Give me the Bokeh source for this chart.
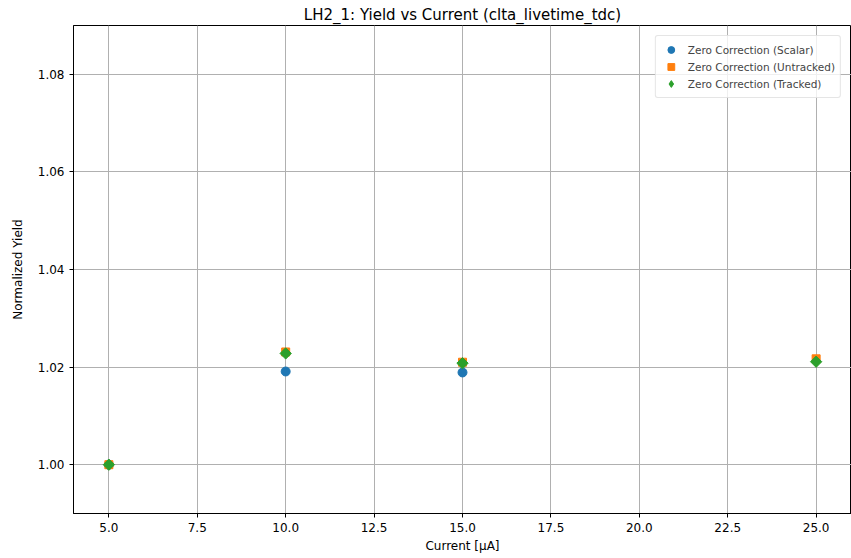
import math
from bokeh.plotting import figure
from bokeh.models import Range1d, FixedTicker, CustomJSTickFormatter, Legend, LegendItem
from bokeh.embed import file_html
from bokeh.resources import INLINE

current_scalar = [5, 10, 15]
yield_scalar = [1.0, 1.0191, 1.0189]
current_untracked = [5, 10, 15, 25]
yield_untracked = [1.0, 1.0231, 1.0210, 1.0217]
current_tracked = [5, 10, 15, 25]
yield_tracked = [1.0, 1.0228, 1.0208, 1.0211]
x_ticks = [5.0, 7.5, 10.0, 12.5, 15.0, 17.5, 20.0, 22.5, 25.0]
y_ticks = [1.00, 1.02, 1.04, 1.06, 1.08]

FONT = "DejaVu Sans"

p = figure(width=851, height=558, output_backend="svg", toolbar_location=None,
           x_range=Range1d(4.0, 26.0), y_range=Range1d(0.99, 1.09),
           title="LH2_1: Yield vs Current (clta_livetime_tdc)",
           min_border_left=73, min_border_right=0, min_border_top=25, min_border_bottom=45)

p.title.align = "center"
p.title.text_font = FONT
p.title.text_font_size = "15px"
p.title.text_font_style = "normal"
p.title.text_color = "#000000"
p.title.offset = 0
p.title.standoff = 4

p.outline_line_color = "#000000"
p.outline_line_width = 1
p.outline_line_alpha = 1

for ax in (p.xaxis[0], p.yaxis[0]):
    ax.axis_line_color = "#000000"
    ax.major_tick_line_color = "#000000"
    ax.major_tick_out = 4
    ax.major_tick_in = 0
    ax.minor_tick_line_color = None
    ax.major_label_text_font = FONT
    ax.major_label_text_font_size = "12px"
    ax.major_label_text_color = "#000000"
    ax.axis_label_text_font = FONT
    ax.axis_label_text_font_size = "12px"
    ax.axis_label_text_font_style = "normal"
    ax.axis_label_text_color = "#000000"

p.xaxis.ticker = FixedTicker(ticks=x_ticks)
p.yaxis.ticker = FixedTicker(ticks=y_ticks)
p.xaxis.formatter = CustomJSTickFormatter(code="return tick.toFixed(1);")
p.yaxis.formatter = CustomJSTickFormatter(code="return tick.toFixed(2);")
p.xaxis.axis_label = "Current [μA]"
p.yaxis.axis_label = "Normalized Yield"
p.xaxis.axis_label_standoff = 4
p.yaxis.axis_label_standoff = 10

p.xgrid.grid_line_color = "#b0b0b0"
p.ygrid.grid_line_color = "#b0b0b0"
p.xgrid.grid_line_width = 1
p.ygrid.grid_line_width = 1

r1 = p.scatter(current_scalar, yield_scalar, marker="circle", size=9,
               fill_color="#1f77b4", line_color="#1f77b4")
r2 = p.scatter(current_untracked, yield_untracked, marker="square", size=8,
               fill_color="#ff7f0e", line_color="#ff7f0e")
# legend proxy (tiny, hidden beneath the rotated squares) so the legend shows a diamond
r3_leg = p.scatter(current_tracked, yield_tracked, marker="diamond", size=1,
                   fill_color="#2ca02c", line_color="#2ca02c")
r3 = p.scatter(current_tracked, yield_tracked, marker="square", size=8, angle=math.pi / 4,
               fill_color="#2ca02c", line_color="#2ca02c")

legend = Legend(items=[
    LegendItem(label="Zero Correction (Scalar)", renderers=[r1]),
    LegendItem(label="Zero Correction (Untracked)", renderers=[r2]),
    LegendItem(label="Zero Correction (Tracked)", renderers=[r3_leg]),
], location="top_right")
legend.label_text_font = FONT
legend.label_text_font_size = "10.5px"
legend.label_height = 17
legend.glyph_height = 17
legend.glyph_width = 20
legend.label_standoff = 7
legend.spacing = 0
legend.padding = 5
legend.margin = 10
legend.border_line_color = "#cccccc"
legend.border_line_width = 1
legend.border_radius = 3
legend.background_fill_alpha = 0.8
p.add_layout(legend)

open("out.html", "w").write(file_html(p, INLINE))
